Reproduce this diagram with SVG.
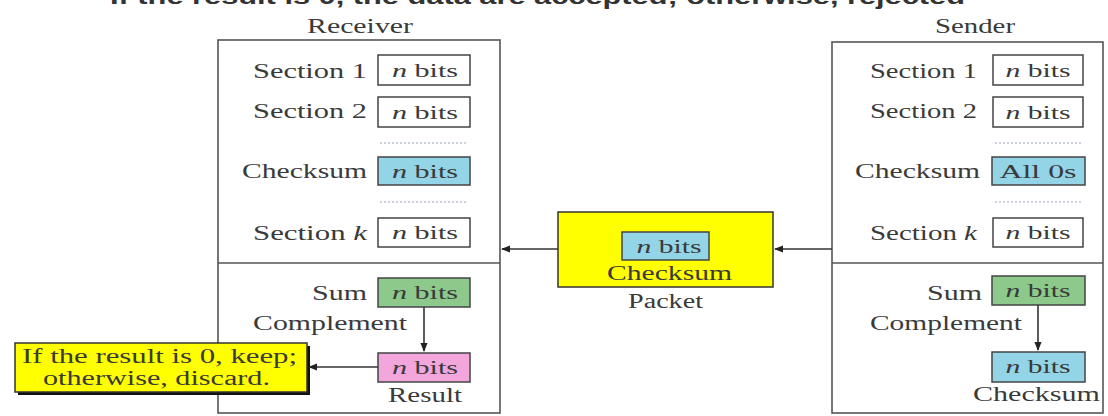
<svg xmlns="http://www.w3.org/2000/svg" width="1108" height="416" viewBox="0 0 1108 416">
  <style>
    .frame { fill: #ffffff; stroke: #555555; stroke-width: 1.6; }
    .cell { stroke: #444444; stroke-width: 1.5; }
    .plain { fill: #ffffff; }
    .blue { fill: #93d4e6; }
    .green { fill: #8cc98a; }
    .pink { fill: #f3a6dc; }
    .note { fill: #ffff00; stroke: #333333; stroke-width: 1.5; }
    .lbl { font-family: "Liberation Serif", "Times New Roman", serif; font-size: 20px; fill: #3a3a3a; }
    .bits { font-family: "Liberation Serif", "Times New Roman", serif; font-size: 19px; fill: #3a3a3a; text-anchor: middle; }
    .dots { stroke: #9aa6b8; stroke-width: 1.2; stroke-dasharray: 2 2; }
    .link { stroke: #333333; stroke-width: 1.6; fill: none; }
    .title { font-family: "Liberation Sans", Arial, sans-serif; font-size: 22px; font-weight: bold; fill: #333333; }
  </style>
  <defs>
    <marker id="arrow" viewBox="0 0 10 10" refX="9" refY="5" markerWidth="9" markerHeight="9" markerUnits="userSpaceOnUse" orient="auto">
      <path d="M0,1 L10,5 L0,9 Z" fill="#222222"/>
    </marker>
  </defs>

  <rect width="1108" height="416" fill="#ffffff"/>

  <!-- heading line, running off the top edge -->
  <text class="title" x="110" y="4" textLength="855" lengthAdjust="spacingAndGlyphs">If the result is 0, the data are accepted; otherwise, rejected</text>

  <!-- Receiver -->
  <g id="receiver">
    <text class="lbl" x="307" y="33" textLength="106" lengthAdjust="spacingAndGlyphs">Receiver</text>
    <rect class="frame" x="218" y="40" width="282" height="373"/>
    <line x1="218" y1="263" x2="500" y2="263" stroke="#555555" stroke-width="1.6"/>

    <text class="lbl" x="253" y="78" textLength="114" lengthAdjust="spacingAndGlyphs">Section 1</text>
    <rect class="cell plain" x="378" y="55" width="92" height="30"/>
    <text class="bits" x="425" y="77" textLength="66" lengthAdjust="spacingAndGlyphs"><tspan font-style="italic">n</tspan> bits</text>

    <text class="lbl" x="253" y="118" textLength="114" lengthAdjust="spacingAndGlyphs">Section 2</text>
    <rect class="cell plain" x="378" y="97" width="92" height="30"/>
    <text class="bits" x="425" y="119" textLength="66" lengthAdjust="spacingAndGlyphs"><tspan font-style="italic">n</tspan> bits</text>

    <line class="dots" x1="380" y1="143" x2="468" y2="143"/>

    <text class="lbl" x="242" y="178" textLength="125" lengthAdjust="spacingAndGlyphs">Checksum</text>
    <rect class="cell blue" x="378" y="157" width="92" height="28"/>
    <text class="bits" x="425" y="178" textLength="66" lengthAdjust="spacingAndGlyphs"><tspan font-style="italic">n</tspan> bits</text>

    <line class="dots" x1="380" y1="202" x2="468" y2="202"/>

    <text class="lbl" x="253" y="240" textLength="114" lengthAdjust="spacingAndGlyphs">Section <tspan font-style="italic">k</tspan></text>
    <rect class="cell plain" x="378" y="218" width="92" height="29"/>
    <text class="bits" x="425" y="239" textLength="66" lengthAdjust="spacingAndGlyphs"><tspan font-style="italic">n</tspan> bits</text>

    <text class="lbl" x="312" y="300" textLength="55" lengthAdjust="spacingAndGlyphs">Sum</text>
    <rect class="cell green" x="378" y="278" width="92" height="29"/>
    <text class="bits" x="425" y="299" textLength="66" lengthAdjust="spacingAndGlyphs"><tspan font-style="italic">n</tspan> bits</text>

    <text class="lbl" x="253" y="330" textLength="154" lengthAdjust="spacingAndGlyphs">Complement</text>

    <rect class="cell pink" x="378" y="353" width="92" height="29"/>
    <text class="bits" x="425" y="374" textLength="66" lengthAdjust="spacingAndGlyphs"><tspan font-style="italic">n</tspan> bits</text>
    <text class="lbl" x="388" y="402" textLength="74" lengthAdjust="spacingAndGlyphs">Result</text>
  </g>

  <!-- Decision note -->
  <g id="decision">
    <rect x="18" y="346" width="292" height="49" fill="#111111"/>
    <rect class="note" x="15" y="343" width="292" height="49"/>
    <text class="lbl" x="22" y="363" textLength="275" lengthAdjust="spacingAndGlyphs" fill="#333300">If the result is 0, keep;</text>
    <text class="lbl" x="43" y="385" textLength="227" lengthAdjust="spacingAndGlyphs" fill="#333300">otherwise, discard.</text>
  </g>

  <!-- Packet -->
  <g id="packet">
    <rect class="note" x="558" y="212" width="215" height="75"/>
    <rect class="cell blue" x="622" y="232" width="87" height="28"/>
    <text class="bits" x="669" y="253" textLength="65" lengthAdjust="spacingAndGlyphs"><tspan font-style="italic">n</tspan> bits</text>
    <text class="lbl" x="607" y="280" textLength="125" lengthAdjust="spacingAndGlyphs" fill="#8a7d00">Checksum</text>
    <text class="lbl" x="628" y="308" textLength="75" lengthAdjust="spacingAndGlyphs">Packet</text>
  </g>

  <!-- Sender -->
  <g id="sender">
    <text class="lbl" x="935" y="33" textLength="80" lengthAdjust="spacingAndGlyphs">Sender</text>
    <rect class="frame" x="832" y="42" width="271" height="371"/>
    <line x1="832" y1="263" x2="1103" y2="263" stroke="#555555" stroke-width="1.6"/>

    <text class="lbl" x="870" y="78" textLength="107" lengthAdjust="spacingAndGlyphs">Section 1</text>
    <rect class="cell plain" x="993" y="55" width="90" height="30"/>
    <text class="bits" x="1038" y="77" textLength="65" lengthAdjust="spacingAndGlyphs"><tspan font-style="italic">n</tspan> bits</text>

    <text class="lbl" x="870" y="118" textLength="107" lengthAdjust="spacingAndGlyphs">Section 2</text>
    <rect class="cell plain" x="993" y="97" width="90" height="30"/>
    <text class="bits" x="1038" y="119" textLength="65" lengthAdjust="spacingAndGlyphs"><tspan font-style="italic">n</tspan> bits</text>

    <line class="dots" x1="995" y1="143" x2="1083" y2="143"/>

    <text class="lbl" x="855" y="178" textLength="125" lengthAdjust="spacingAndGlyphs">Checksum</text>
    <rect class="cell blue" x="992" y="157" width="93" height="28"/>
    <text class="bits" x="1038" y="178" textLength="77" lengthAdjust="spacingAndGlyphs">All 0s</text>

    <line class="dots" x1="995" y1="202" x2="1083" y2="202"/>

    <text class="lbl" x="870" y="240" textLength="107" lengthAdjust="spacingAndGlyphs">Section <tspan font-style="italic">k</tspan></text>
    <rect class="cell plain" x="993" y="218" width="90" height="29"/>
    <text class="bits" x="1038" y="239" textLength="65" lengthAdjust="spacingAndGlyphs"><tspan font-style="italic">n</tspan> bits</text>

    <text class="lbl" x="927" y="300" textLength="55" lengthAdjust="spacingAndGlyphs">Sum</text>
    <rect class="cell green" x="992" y="276" width="93" height="29"/>
    <text class="bits" x="1038" y="297" textLength="65" lengthAdjust="spacingAndGlyphs"><tspan font-style="italic">n</tspan> bits</text>

    <text class="lbl" x="870" y="330" textLength="152" lengthAdjust="spacingAndGlyphs">Complement</text>

    <rect class="cell blue" x="992" y="352" width="93" height="30"/>
    <text class="bits" x="1038" y="373" textLength="65" lengthAdjust="spacingAndGlyphs"><tspan font-style="italic">n</tspan> bits</text>
    <text class="lbl" x="973" y="401" textLength="127" lengthAdjust="spacingAndGlyphs">Checksum</text>
  </g>

  <!-- connectors -->
  <g id="connectors">
    <line class="link" x1="424" y1="307" x2="424" y2="351" marker-end="url(#arrow)"/>
    <line class="link" x1="1038" y1="305" x2="1038" y2="350" marker-end="url(#arrow)"/>
    <line class="link" x1="378" y1="367" x2="309" y2="367" marker-end="url(#arrow)"/>
    <line class="link" x1="558" y1="249" x2="502" y2="249" marker-end="url(#arrow)"/>
    <line class="link" x1="832" y1="249" x2="775" y2="249" marker-end="url(#arrow)"/>
  </g>
</svg>
